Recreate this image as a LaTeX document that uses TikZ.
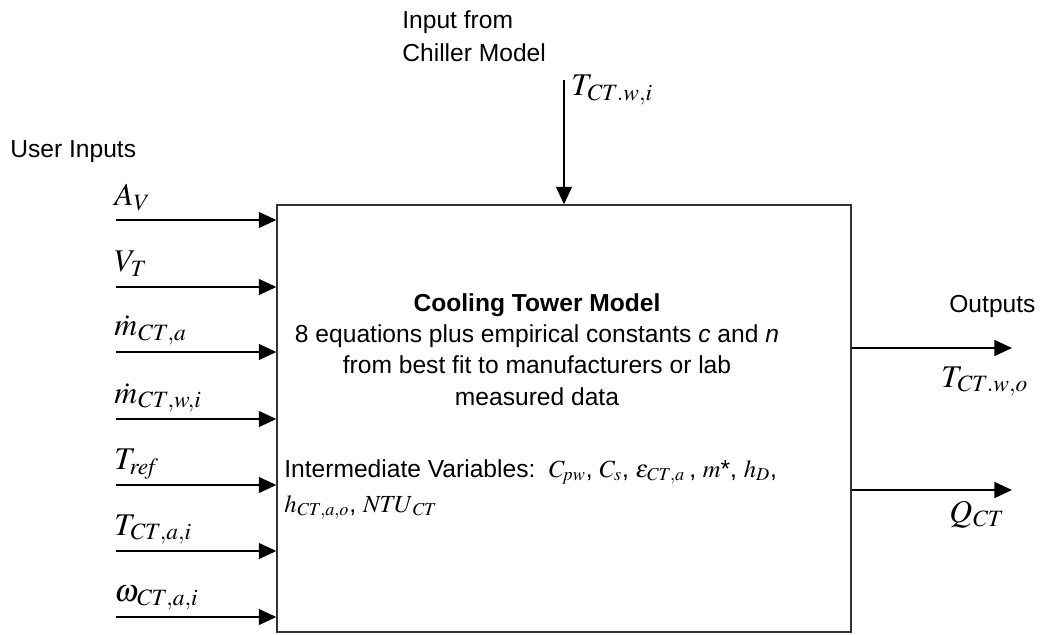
\documentclass[tikz,border=0pt]{standalone}
\usepackage{mathptmx}
\usepackage[no-math]{fontspec}
\setmainfont{Liberation Sans}
\usetikzlibrary{arrows.meta}
\tikzstyle{arrow} = [-{Triangle[length=10pt,width=9pt]},line width=1.1pt]
\tikzstyle{model} = [draw=black!80,line width=0.8pt,minimum width=11.48cm,minimum height=8.54cm,inner sep=0pt]
\tikzstyle{txt} = [font=\fontsize{14}{19.3}\selectfont,inner sep=0pt,anchor=base west,align=left]
\tikzstyle{lbl} = [font=\fontsize{18}{20}\selectfont,inner sep=0pt,anchor=base west]

\begin{document}
\begin{tikzpicture}[x=0.02cm,y=-0.02cm]
          \useasboundingbox (0,0) rectangle (1049,635);
          \node[model] at (564,418.5) (box) {};

          % text in the model box (base = last line)
          \node[txt,align=center,anchor=base] at (537,405) (title)
            {\textbf{Cooling Tower Model}\\[-1.5pt]
             8 equations plus empirical constants \textit{c} and \textit{n}\\[-1.5pt]
             from best fit to manufacturers or lab\\[-1.5pt]
             measured data};
          \node[txt,font=\fontsize{14}{19.8}\selectfont] at (284,512) (inter)
            {Intermediate Variables:\ \ $C_{\mathit{pw}}$, $C_s$, $\varepsilon_{\mathit{CT},a}$\,, $m$*, $h_D$,\\
             $h_{\mathit{CT},a,o}$, $\mathit{NTU}_{\mathit{CT}}$};

          % headings
          \node[txt] at (10,158) (user) {User Inputs};
          \node[txt] at (402,62) (chiller) {Input from\\Chiller Model};
          \node[txt] at (949,312) (outputs) {Outputs};

          % user inputs
          \coordinate (inA) at (116,220);
          \coordinate (inV) at (116,287);
          \coordinate (inMa) at (116,352);
          \coordinate (inMw) at (116,419);
          \coordinate (inTr) at (116,485);
          \coordinate (inTa) at (116,551);
          \coordinate (inW) at (116,617);
          \draw[arrow] (inA) -- (inA -| box.west);
          \draw[arrow] (inV) -- (inV -| box.west);
          \draw[arrow] (inMa) -- (inMa -| box.west);
          \draw[arrow] (inMw) -- (inMw -| box.west);
          \draw[arrow] (inTr) -- (inTr -| box.west);
          \draw[arrow] (inTa) -- (inTa -| box.west);
          \draw[arrow] (inW) -- (inW -| box.west);
          \node[lbl] at (114,206) (lA) {$A_V$};
          \node[lbl] at (114,272) (lV) {$V_T$};
          \node[lbl] at (114,336) (lMa) {$\dot{m}_{\mathit{CT},a}$};
          \node[lbl] at (114,403) (lMw) {$\dot{m}_{\mathit{CT},w,i}$};
          \node[lbl] at (114,469) (lTr) {$T_{\mathit{ref}}$};
          \node[lbl] at (114,535) (lTa) {$T_{\mathit{CT},a,i}$};
          \node[lbl] at (114,601) (lW) {$\omega_{\mathit{CT},a,i}$};

          % input from chiller
          \coordinate (inT) at (564,80);
          \draw[arrow] (inT) -- (inT |- box.north);
          \node[lbl] at (571,96) (lT) {$T_{\mathit{CT.w},i}$};

          % outputs
          \coordinate (outT) at (1012,348);
          \coordinate (outQ) at (1012,490);
          \draw[arrow] (outT -| box.east) -- (outT);
          \draw[arrow] (outQ -| box.east) -- (outQ);
          \node[lbl] at (941,387) (lTo) {$T_{\mathit{CT.w},o}$};
          \node[lbl] at (949,522) (lQ) {$Q_{\mathit{CT}}$};
        \end{tikzpicture}
\end{document}
